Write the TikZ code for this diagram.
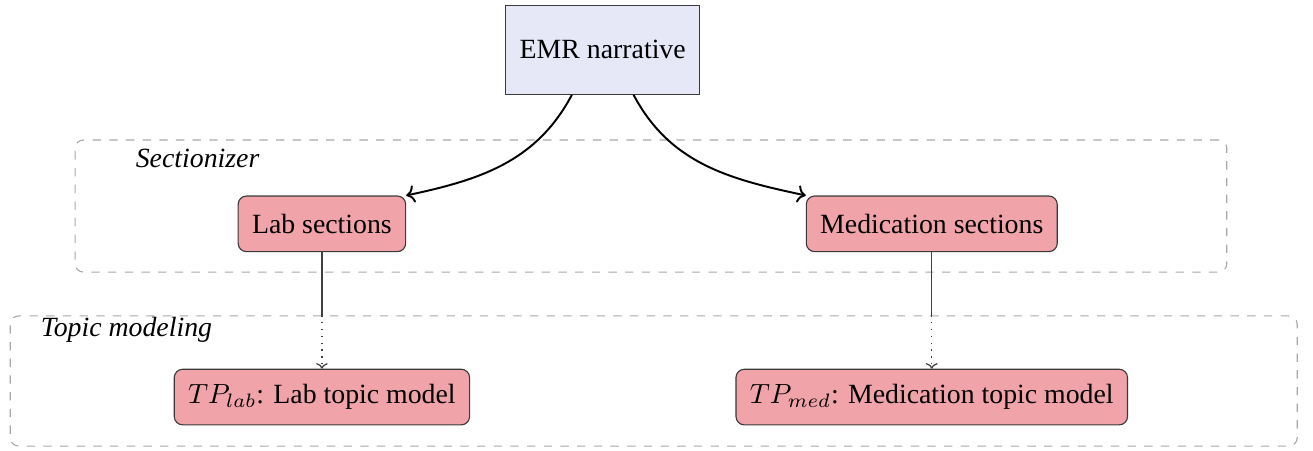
\documentclass[tikz,border=0pt]{standalone}
\usepackage{fontspec}
\setmainfont{Liberation Serif}
\usepackage{xcolor}
\definecolor{SoftLilac}{HTML}{E6E8F8}
\definecolor{SoftRed}{HTML}{F0A3A9}
\definecolor{Frame}{HTML}{3A3A3A}
\definecolor{GroupLine}{HTML}{A8A8A8}
\usepackage{tikz}
\usetikzlibrary{arrows.meta,positioning,calc}

\begin{document}
\begin{tikzpicture}[
  sourcebox/.style={draw=Frame,fill=SoftLilac,minimum height=32pt,inner xsep=5pt,font=\normalsize},
  stagebox/.style={draw=Frame,fill=SoftRed,rounded corners=3pt,minimum height=20pt,inner xsep=5pt,font=\normalsize},
  groupbox/.style={draw=GroupLine,dash pattern=on 3pt off 3pt,rounded corners=3pt,line width=0.4pt},
  grouplabel/.style={anchor=west,inner sep=0pt,font=\itshape},
  bendarrow/.style={-{To[length=3pt]},draw=black,line width=0.7pt},
  feedline/.style={draw=black!75,line width=0.45pt}
]
  \useasboundingbox (0,0) rectangle (16.6,-5.70);

  % groups
  \node[groupbox,minimum width=14.56cm,minimum height=1.67cm] (secbox) at (8.23,-2.605) {};
  \node[groupbox,minimum width=16.27cm,minimum height=1.645cm] (topicbox) at (8.265,-4.817) {};
  \node[grouplabel] (seclabel) at (1.71,-2.0) {Sectionizer};
  \node[grouplabel] (topiclabel) at (0.51,-4.17) {Topic modeling};

  % nodes
  \node[sourcebox] (emr) at (7.62,-0.63) {EMR narrative};
  \node[stagebox] (lab) at (4.07,-2.83) {Lab sections};
  \node[stagebox] (med) at (11.78,-2.83) {Medication sections};
  \node[stagebox] (tplab) at (4.07,-5.02) {$TP_{lab}$: Lab topic model};
  \node[stagebox] (tpmed) at (11.78,-5.02) {$TP_{med}$: Medication topic model};

  % connectors
  \draw[bendarrow] ([xshift=-0.39cm]emr.south) to[out=-118,in=12] (lab.north east);
  \draw[bendarrow] ([xshift=0.39cm]emr.south) to[out=-62,in=168] (med.north west);
  \draw[feedline] (lab.south) -- (lab |- topicbox.north) coordinate (labgate);
  \draw[feedline,dotted,-{To[length=2pt]}] (labgate) -- (tplab.north);
  \draw[feedline] (med.south) -- (med |- topicbox.north) coordinate (medgate);
  \draw[feedline,dotted,-{To[length=2pt]}] (medgate) -- (tpmed.north);
\end{tikzpicture}
\end{document}
